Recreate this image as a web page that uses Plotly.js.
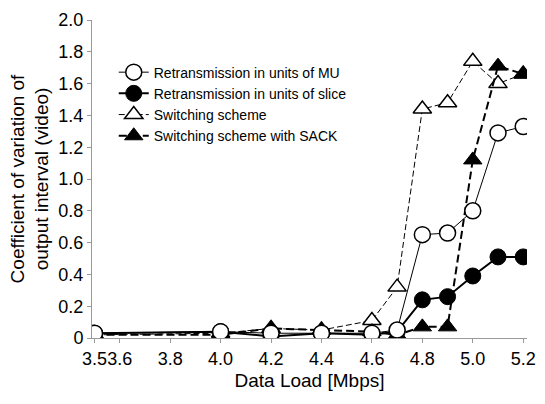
<!DOCTYPE html>
<html>
<head>
<meta charset="utf-8">
<script src="https://cdn.plot.ly/plotly-3.0.1.min.js"></script>
<style>html,body{margin:0;padding:0;background:#fff;}#chart{width:545px;height:404px;}</style>
</head>
<body>
<div id="chart"></div>
<script>
const loads = [3.5, 4.0, 4.2, 4.4, 4.6, 4.7, 4.8, 4.9, 5.0, 5.1, 5.2];
const retransMU    = [0.03, 0.04, 0.03, 0.03, 0.03, 0.05, 0.65, 0.66, 0.80, 1.29, 1.33];
const retransSlice = [0.03, 0.04, 0.01, 0.03, 0.02, 0.04, 0.24, 0.26, 0.39, 0.51, 0.51];
const switching    = [0.02, 0.03, 0.06, 0.05, 0.11, 0.32, 1.44, 1.48, 1.74, 1.60, 1.66];
const switchingSack= [0.02, 0.02, 0.06, 0.05, 0.04, 0.02, 0.07, 0.07, 1.12, 1.71, 1.66];
const seriesNames = ['Retransmission in units of MU','Retransmission in units of slice','Switching scheme','Switching scheme with SACK'];
const xTickVals = [3.5, 3.6, 3.8, 4.0, 4.2, 4.4, 4.6, 4.8, 5.0, 5.2];
const xTickText = ['3.5','3.6','3.8','4.0','4.2','4.4','4.6','4.8','5.0','5.2'];
const yTickVals = [0, 0.2, 0.4, 0.6, 0.8, 1.0, 1.2, 1.4, 1.6, 1.8, 2.0];
const yTickText = ['0','0.2','0.4','0.6','0.8','1.0','1.2','1.4','1.6','1.8','2.0'];

const traces = [
  {x: loads, y: switching, name: seriesNames[2], legendrank: 3, mode: 'lines+markers',
   line: {color: '#000', width: 1, dash: '6px,3px'},
   marker: {symbol: 'triangle-up', size: 16, color: '#fff', line: {color: '#000', width: 1.5}}},
  {x: loads, y: switchingSack, name: seriesNames[3], legendrank: 4, mode: 'lines+markers',
   line: {color: '#000', width: 2, dash: '8px,4px'},
   marker: {symbol: 'triangle-up', size: 16, color: '#000', line: {color: '#000', width: 1}}},
  {x: loads, y: retransSlice, name: seriesNames[1], legendrank: 2, mode: 'lines+markers',
   line: {color: '#000', width: 2},
   marker: {symbol: 'circle', size: 16, color: '#000', line: {color: '#000', width: 1}}},
  {x: loads, y: retransMU, name: seriesNames[0], legendrank: 1, mode: 'lines+markers',
   line: {color: '#000', width: 1},
   marker: {symbol: 'circle', size: 16, color: '#fff', line: {color: '#000', width: 1.5}}}
];

const layout = {
  width: 545, height: 404,
  margin: {l: 92, r: 18, t: 20, b: 66},
  paper_bgcolor: '#fff', plot_bgcolor: '#fff',
  font: {family: 'Liberation Sans, Arial, Helvetica, sans-serif', color: '#000', size: 18},
  showlegend: true,
  legend: {x: 0.05, y: 0.885, xanchor: 'left', yanchor: 'top', bgcolor: 'rgba(0,0,0,0)',
           font: {size: 14}, tracegroupgap: 0, itemwidth: 30},
  xaxis: {range: [3.49, 5.215], tickmode: 'array', tickvals: xTickVals, ticktext: xTickText,
          tickangle: 0,
          showgrid: false, zeroline: false, showline: true, linecolor: '#999', linewidth: 1,
          ticks: 'outside', ticklen: 4, tickcolor: '#999', automargin: false,
          title: {text: 'Data Load [Mbps]', font: {size: 19}, standoff: 6}},
  yaxis: {range: [0, 2.0], tickmode: 'array', tickvals: yTickVals, ticktext: yTickText,
          showgrid: false, zeroline: false, showline: true, linecolor: '#999', linewidth: 1,
          ticks: 'outside', ticklen: 4, tickcolor: '#999', automargin: false,
          title: {text: 'Coefficient of variation of<br>output interval (video)', font: {size: 19}, standoff: 4}}
};

Plotly.newPlot('chart', traces, layout, {displayModeBar: false, staticPlot: true});
</script>
</body>
</html>
